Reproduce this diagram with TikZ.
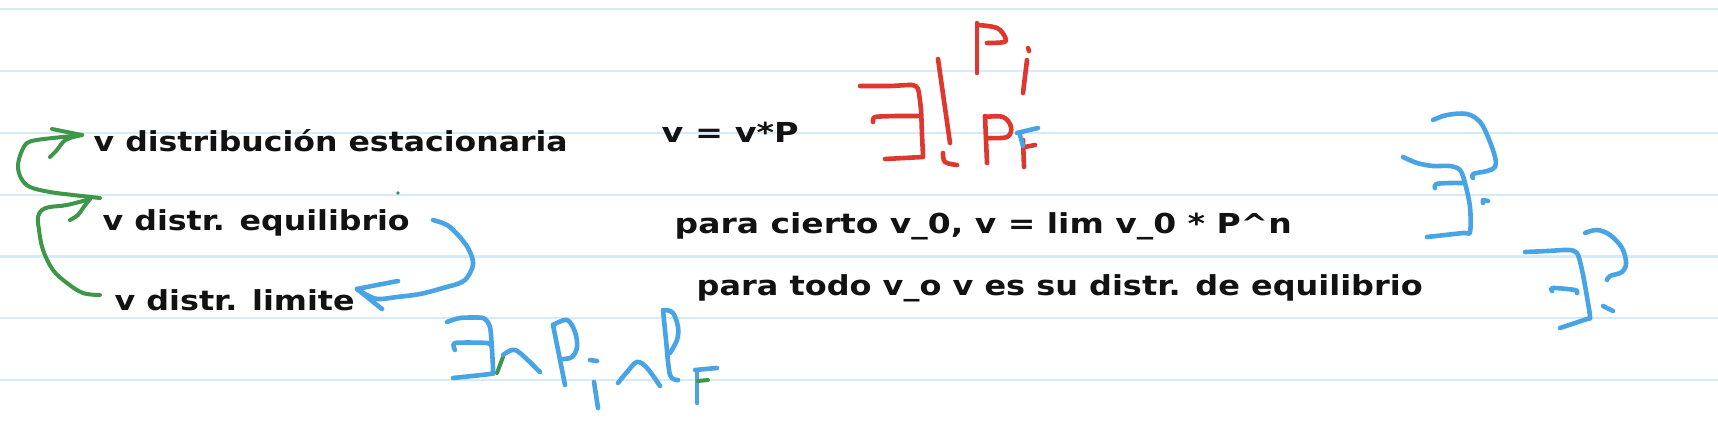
\documentclass[tikz,border=0pt]{standalone}
\usepackage{fontspec}
\setmainfont{DejaVu Sans}
\usepackage{graphicx}
\definecolor{ruleblue}{RGB}{214,234,248}
\definecolor{pgreen}{RGB}{62,150,72}
\definecolor{pred}{RGB}{222,56,46}
\definecolor{pblue}{RGB}{72,164,228}
\newcommand\fitw[2]{\resizebox{#1pt}{\height}{#2}}
\tikzset{
  txt/.style={anchor=base west, inner sep=0pt, text=black!93, font=\fontsize{27.5}{30}\selectfont\bfseries},
  ruleline/.style={draw=ruleblue, line width=2.2pt},
  gpen/.style={draw=pgreen, line width=4pt, line cap=round, line join=round},
  rpen/.style={draw=pred, line width=4.6pt, line cap=round, line join=round},
  bpen/.style={draw=pblue, line width=4.6pt, line cap=round, line join=round},
}
\begin{document}
\begin{tikzpicture}[x=1pt,y=-1pt]
\useasboundingbox (0,0) rectangle (1718,436);
\fill[white] (0,0) rectangle (1718,436);
\foreach \yy in {9.3,71.1,132.9,194.7,256.5,318.3,380.1}
  \draw[ruleline] (0,\yy) -- (1718,\yy);

% texts
\node[txt] (est) at (93.5,151.7) {\fitw{474}{v distribución estacionaria}};
\node[txt] (vP) at (661.5,142) {\fitw{137}{v = v*P}};
\node[txt] (eq) at (102.5,230.5) {\fitw{307}{v distr. equilibrio}};
\node[txt] (lim) at (114.5,310) {\fitw{240}{v distr. limite}};
\node[txt] (cierto) at (674.5,233) {\fitw{617}{para cierto v\_0, v = lim v\_0 * P\textasciicircum n}};
\node[txt] (todo) at (696.5,295) {\fitw{726}{para todo v\_o v es su distr. de equilibrio}};

% green connectors
\coordinate (g1s) at (100,198);
\coordinate (g1e) at (82,135);
\draw[gpen] plot[smooth, tension=0.6] coordinates {(g1s) (73,195) (50,192) (30,187) (21,178) (18,166) (21,153) (27,143) (37,140) (53,138) (g1e)};
\draw[gpen] (52,129) -- (g1e);
\draw[gpen] plot[smooth, tension=0.6] coordinates {(50,157) (57,150) (63,142) (70,138) (g1e)};
\coordinate (g2s) at (100,295);
\coordinate (g2e) at (90,199);
\draw[gpen] plot[smooth, tension=0.6] coordinates {(g2s) (83,293) (67,283) (53,270) (43,250) (39,230) (38,217) (42,210) (50,207) (67,205) (g2e)};
\draw[gpen] plot[smooth, tension=0.6] coordinates {(70,220) (78,215) (83,208) (g2e)};
\fill[pgreen] (398,193) circle (1.8);

% blue connector
\coordinate (b1s) at (433,220);
\coordinate (b1e) at (357,289);
\draw[bpen] plot[smooth, tension=0.6] coordinates {(b1s) (447,225) (458,235) (468,248) (473,262) (470,273) (462,282) (443,288) (420,294) (397,297) (378,299) (367,295) (b1e)};
\draw[bpen] plot[smooth, tension=0.6] coordinates {(398,281) (377,285) (b1e)};
\draw[bpen] plot[smooth, tension=0.6] coordinates {(b1e) (367,297) (377,305) (382,309)};

% red: exists! P_i P_F
\draw[rpen] plot[smooth, tension=0.4] coordinates {(860,86) (890,86) (912,85) (918,89) (921,110) (922,135) (923,155)};
\draw[rpen] (885,159) -- (923,157);
\draw[rpen] plot[smooth, tension=0.4] coordinates {(873,122) (875,117) (897,116) (918,116)};
\draw[rpen] (938,59) -- (950,143);
\draw[rpen] plot[smooth, tension=0.6] coordinates {(943,153) (945,162) (957,165)};
\draw[rpen] (977,23) -- (977,73);
\draw[rpen] plot[smooth, tension=0.6] coordinates {(978,25) (997,28) (1005,37) (1004,42) (987,43)};
\draw[rpen] (1028,48) -- (1029,51);
\draw[rpen] (1027,60) -- (1023,93);
\draw[rpen] (985,116) -- (987,163);
\draw[rpen] plot[smooth, tension=0.6] coordinates {(985,117) (1003,117) (1011,127) (1007,137) (987,138)};
\draw[rpen] (1023,140) -- (1024,167);
\draw[rpen] (1025,147) -- (1035,145);
\draw[bpen] (1017,133) -- (1038,128);
\draw[bpen] (1020,135) -- (1023,146);

% blue: exists? (top)
\draw[bpen] plot[smooth, tension=0.6] coordinates {(1433,120) (1447,115) (1467,114) (1480,122) (1488,137) (1495,157) (1495,167) (1487,171) (1473,174) (1473,178)};
\draw[bpen] plot[smooth, tension=0.5] coordinates {(1403,157) (1417,163) (1433,166) (1450,166) (1460,170) (1465,183) (1470,207) (1470,232) (1463,233) (1427,237)};
\draw[bpen] plot[smooth, tension=0.5] coordinates {(1435,188) (1436,184) (1450,183) (1463,183)};
\draw[bpen] (1483,203) -- (1483,200) -- (1488,201);

% blue: exists? (bottom)
\draw[bpen] plot[smooth, tension=0.6] coordinates {(1585,233) (1597,230) (1610,235) (1622,248) (1626,263) (1622,272) (1610,276) (1607,280)};
\draw[bpen] plot[smooth, tension=0.5] coordinates {(1525,252) (1548,251) (1568,250) (1577,253) (1582,270) (1587,297) (1590,317) (1587,319) (1560,328)};
\draw[bpen] plot[smooth, tension=0.5] coordinates {(1552,291) (1553,288) (1575,290) (1577,293)};
\draw[bpen] (1603,306) -- (1613,311);

% blue: exists ^ P_i cap P_F
\draw[bpen] plot[smooth, tension=0.4] coordinates {(447,322) (460,318) (483,318) (490,327) (492,350) (493,372) (490,374) (453,378)};
\draw[bpen] plot[smooth, tension=0.4] coordinates {(455,350) (455,343) (487,343) (492,347)};
\draw[gpen] (497,373) -- (503,357);
\draw[bpen] plot[smooth, tension=0.6] coordinates {(503,355) (512,350) (520,353) (540,372)};
\draw[bpen] (553,325) -- (565,385);
\draw[bpen] plot[smooth, tension=0.6] coordinates {(553,325) (567,320) (575,332) (577,347) (572,357) (563,359)};
\draw[bpen] (590,360) -- (597,361);
\draw[bpen] (594,382) -- (598,408);
\draw[bpen] plot[smooth, tension=0.6] coordinates {(618,383) (627,372) (637,362) (647,368) (660,386)};
\draw[bpen] plot[smooth, tension=0.5] coordinates {(663,310) (666,340) (670,375) (678,380)};
\draw[bpen] plot[smooth, tension=0.6] coordinates {(665,310) (673,313) (678,327) (677,340) (670,353)};
\draw[bpen] (695,370) -- (717,368);
\draw[bpen] (697,372) -- (697,403);
\draw[gpen] (698,381) -- (708,380);
\end{tikzpicture}
\end{document}
